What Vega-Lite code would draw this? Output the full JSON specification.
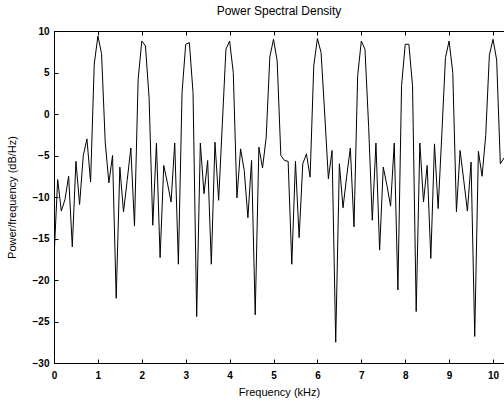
{
  "$schema": "https://vega.github.io/schema/vega-lite/v6.json",
  "width": 450,
  "height": 332,
  "autosize": {"type": "none"},
  "padding": {"left": 54, "top": 31, "right": 0, "bottom": 38},
  "background": "white",
  "title": {"text": "Power Spectral Density", "fontSize": 12, "fontWeight": "normal", "font": "Liberation Sans", "offset": 8, "color": "black"},
  "config": {
    "view": {"stroke": "black", "strokeWidth": 1},
    "axis": {"grid": false, "domainColor": "black", "tickColor": "black", "labelColor": "black", "titleColor": "black",
             "labelFont": "Liberation Sans", "titleFont": "Liberation Sans", "labelFontWeight": "bold", "labelFontSize": 10,
             "titleFontWeight": "normal", "titleFontSize": 11, "domainWidth": 1, "tickWidth": 1}
  },
  "data": {"values": [
    {"f": 0, "p": -17.4}, {"f": 0.0833, "p": -7.9}, {"f": 0.1667, "p": -11.7}, {"f": 0.25, "p": -10.3},
    {"f": 0.3333, "p": -7.5}, {"f": 0.4167, "p": -16.0}, {"f": 0.5, "p": -5.7}, {"f": 0.5833, "p": -10.9},
    {"f": 0.6667, "p": -5.0}, {"f": 0.75, "p": -3.0}, {"f": 0.8333, "p": -8.2}, {"f": 0.9167, "p": 6.0},
    {"f": 1, "p": 9.4}, {"f": 1.0833, "p": 7.3}, {"f": 1.1667, "p": -3.4}, {"f": 1.25, "p": -8.3},
    {"f": 1.3333, "p": -5.0}, {"f": 1.4167, "p": -22.2}, {"f": 1.5, "p": -6.4}, {"f": 1.5833, "p": -11.8},
    {"f": 1.6667, "p": -8.0}, {"f": 1.75, "p": -4.1}, {"f": 1.8333, "p": -13.5}, {"f": 1.9167, "p": 4.2},
    {"f": 2, "p": 8.8}, {"f": 2.0833, "p": 8.2}, {"f": 2.1667, "p": 1.9}, {"f": 2.25, "p": -13.4},
    {"f": 2.3333, "p": -3.5}, {"f": 2.4167, "p": -17.3}, {"f": 2.5, "p": -6.2}, {"f": 2.5833, "p": -8.3},
    {"f": 2.6667, "p": -10.6}, {"f": 2.75, "p": -3.5}, {"f": 2.8333, "p": -18.1}, {"f": 2.9167, "p": 2.6},
    {"f": 3, "p": 8.4}, {"f": 3.0833, "p": 8.6}, {"f": 3.1667, "p": 2.6}, {"f": 3.25, "p": -24.4},
    {"f": 3.3333, "p": -3.5}, {"f": 3.4167, "p": -9.6}, {"f": 3.5, "p": -5.6}, {"f": 3.5833, "p": -18.1},
    {"f": 3.6667, "p": -3.4}, {"f": 3.75, "p": -10.4}, {"f": 3.8333, "p": -1.3}, {"f": 3.9167, "p": 7.8},
    {"f": 4, "p": 8.8}, {"f": 4.0833, "p": 5.0}, {"f": 4.1667, "p": -10.1}, {"f": 4.25, "p": -4.2},
    {"f": 4.3333, "p": -6.8}, {"f": 4.4167, "p": -12.5}, {"f": 4.5, "p": -5.6}, {"f": 4.5833, "p": -24.2},
    {"f": 4.6667, "p": -4.0}, {"f": 4.75, "p": -6.5}, {"f": 4.8333, "p": -2.8}, {"f": 4.9167, "p": 6.9},
    {"f": 5, "p": 9.0}, {"f": 5.0833, "p": 6.4}, {"f": 5.1667, "p": -5.0}, {"f": 5.25, "p": -5.6},
    {"f": 5.3333, "p": -5.7}, {"f": 5.4167, "p": -18.1}, {"f": 5.5, "p": -5.7}, {"f": 5.5833, "p": -14.9},
    {"f": 5.6667, "p": -6.0}, {"f": 5.75, "p": -4.8}, {"f": 5.8333, "p": -7.6}, {"f": 5.9167, "p": 5.8},
    {"f": 6, "p": 9.1}, {"f": 6.0833, "p": 7.4}, {"f": 6.1667, "p": 0.0}, {"f": 6.25, "p": -7.8},
    {"f": 6.3333, "p": -4.4}, {"f": 6.4167, "p": -27.5}, {"f": 6.5, "p": -6.0}, {"f": 6.5833, "p": -11.3},
    {"f": 6.6667, "p": -7.5}, {"f": 6.75, "p": -4.1}, {"f": 6.8333, "p": -13.6}, {"f": 6.9167, "p": 4.6},
    {"f": 7, "p": 8.8}, {"f": 7.0833, "p": 7.8}, {"f": 7.1667, "p": -1.5}, {"f": 7.25, "p": -12.8},
    {"f": 7.3333, "p": -3.5}, {"f": 7.4167, "p": -16.4}, {"f": 7.5, "p": -6.4}, {"f": 7.5833, "p": -8.6},
    {"f": 7.6667, "p": -11.1}, {"f": 7.75, "p": -3.5}, {"f": 7.8333, "p": -21.2}, {"f": 7.9167, "p": 3.4},
    {"f": 8, "p": 8.4}, {"f": 8.0833, "p": 8.4}, {"f": 8.1667, "p": 3.4}, {"f": 8.25, "p": -23.8},
    {"f": 8.3333, "p": -3.5}, {"f": 8.4167, "p": -10.6}, {"f": 8.5, "p": -6.2}, {"f": 8.5833, "p": -17.4},
    {"f": 8.6667, "p": -3.6}, {"f": 8.75, "p": -11.4}, {"f": 8.8333, "p": -2.5}, {"f": 8.9167, "p": 6.8},
    {"f": 9, "p": 8.8}, {"f": 9.0833, "p": 5.0}, {"f": 9.1667, "p": -11.8}, {"f": 9.25, "p": -4.4},
    {"f": 9.3333, "p": -8.0}, {"f": 9.4167, "p": -11.7}, {"f": 9.5, "p": -5.8}, {"f": 9.5833, "p": -26.8},
    {"f": 9.6667, "p": -4.5}, {"f": 9.75, "p": -7.5}, {"f": 9.8333, "p": -2.6}, {"f": 9.9167, "p": 7.1},
    {"f": 10, "p": 9.0}, {"f": 10.0833, "p": 6.5}, {"f": 10.1667, "p": -6.0}, {"f": 10.25, "p": -5.3}
  ]},
  "layer": [
    {
      "mark": {"type": "line", "color": "black", "strokeWidth": 1, "clip": true},
      "encoding": {
        "x": {"field": "f", "type": "quantitative", "scale": {"domain": [0, 10.25], "nice": false, "zero": false},
              "axis": {"values": [0,1,2,3,4,5,6,7,8,9,10], "title": "Frequency (kHz)", "tickSize": -4, "labelPadding": 11, "titlePadding": 6, "labelFlush": false}},
        "y": {"field": "p", "type": "quantitative", "scale": {"domain": [-30, 10], "nice": false, "zero": false},
              "axis": {"values": [-30,-25,-20,-15,-10,-5,0,5,10], "title": "Power/frequency (dB/Hz)", "tickSize": -4, "labelPadding": 9, "titlePadding": 15}}
      }
    },
    {
      "mark": {"type": "line", "opacity": 0},
      "encoding": {
        "x": {"field": "f", "type": "quantitative",
              "axis": {"orient": "top", "values": [0,1,2,3,4,5,6,7,8,9,10], "labels": false, "title": null, "tickSize": -4, "domain": true}},
        "y": {"field": "p", "type": "quantitative"}
      }
    }
  ],
  "resolve": {"axis": {"x": "independent"}}
}
